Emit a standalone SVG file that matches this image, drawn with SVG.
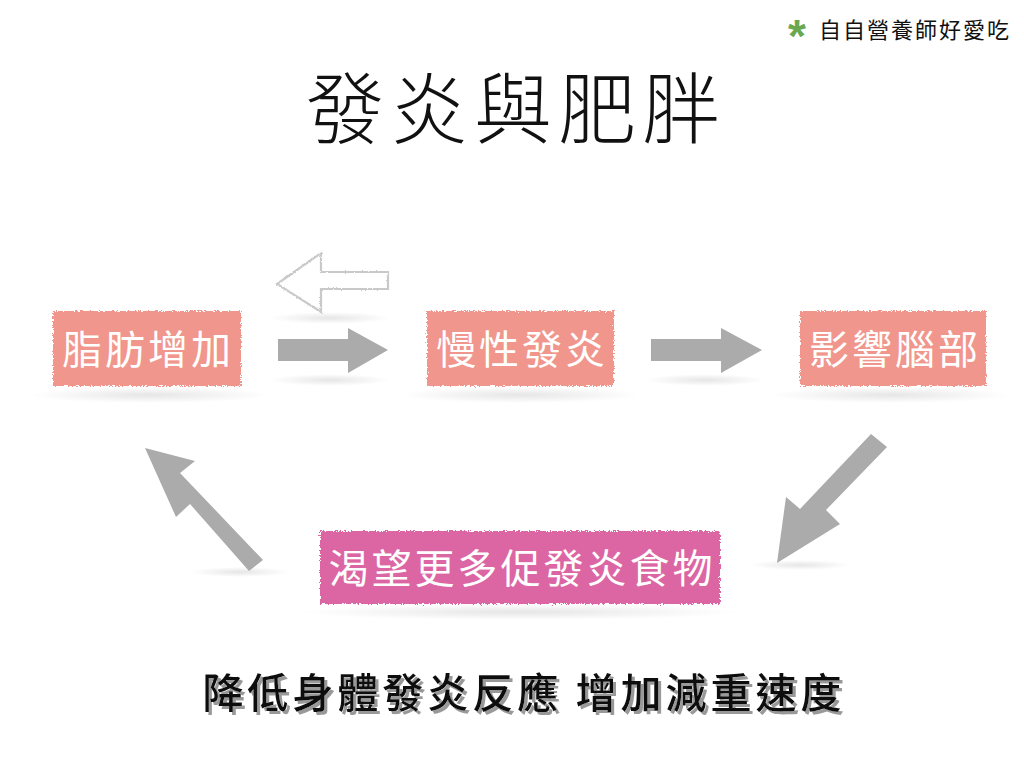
<svg xmlns="http://www.w3.org/2000/svg" width="1024" height="768" viewBox="0 0 1024 768">
<defs>
<style>
.box{filter:url(#rough)}
.bt{font-family:"Noto Sans CJK TC","Noto Sans CJK SC",sans-serif;font-size:40px;fill:#fff;text-anchor:middle;font-weight:400;letter-spacing:3px}
.arr{fill:#ababab}
.sh{fill:url(#shg)}
</style>
<filter id="rough" x="-5%" y="-10%" width="110%" height="120%">
<feTurbulence type="fractalNoise" baseFrequency="0.6" numOctaves="2" seed="3" result="n"/>
<feDisplacementMap in="SourceGraphic" in2="n" scale="5" xChannelSelector="R" yChannelSelector="G"/>
</filter>
<filter id="sketch" x="-10%" y="-10%" width="120%" height="120%">
<feTurbulence type="fractalNoise" baseFrequency="0.8" numOctaves="2" seed="5" result="n"/>
<feDisplacementMap in="SourceGraphic" in2="n" scale="2.5" xChannelSelector="R" yChannelSelector="G"/>
</filter>
<filter id="tshadow" x="-5%" y="-20%" width="110%" height="150%">
<feOffset in="SourceAlpha" dx="3" dy="3" result="o"/>
<feFlood flood-color="#999"/>
<feComposite in2="o" operator="in" result="s"/>
<feMerge><feMergeNode in="s"/><feMergeNode in="SourceGraphic"/></feMerge>
</filter>
<radialGradient id="shg">
<stop offset="0" stop-color="#000" stop-opacity="0.1"/>
<stop offset="1" stop-color="#000" stop-opacity="0"/>
</radialGradient>
</defs>
<rect width="1024" height="768" fill="#fff"/>

<g id="brand">
<text x="797" y="52" font-family="Liberation Sans,sans-serif" font-size="46" font-weight="bold" fill="#6aa84f" text-anchor="middle">*</text>
<text x="819" y="38" font-family="'Noto Sans CJK TC',sans-serif" font-size="22" fill="#111" letter-spacing="2">自自營養師好愛吃</text>
</g>

<g id="title">
<text x="516" y="138" font-family="'Noto Sans CJK TC',sans-serif" font-size="78" font-weight="300" fill="#111" text-anchor="middle" letter-spacing="6">發炎與肥胖</text>
</g>

<g id="shadows">
<ellipse class="sh" cx="330" cy="318" rx="60" ry="6"/>
<ellipse class="sh" cx="330" cy="380" rx="60" ry="6"/>
<ellipse class="sh" cx="705" cy="380" rx="60" ry="6"/>
<ellipse class="sh" cx="150" cy="395" rx="120" ry="8"/>
<ellipse class="sh" cx="520" cy="395" rx="120" ry="8"/>
<ellipse class="sh" cx="890" cy="395" rx="120" ry="8"/>
<ellipse class="sh" cx="800" cy="565" rx="50" ry="5"/>
<ellipse class="sh" cx="240" cy="572" rx="50" ry="5"/>
<ellipse class="sh" cx="520" cy="612" rx="220" ry="8"/>
</g>

<g id="connectors">
<path class="arr" d="M278,339 H348 V328 L388,350 L348,373 V361 H278 Z"/>
<path class="arr" d="M651,339 H721 V328 L762,350 L721,373 V361 H651 Z"/>
<path class="arr" d="M871,434 L887,447 L826,510 L840,524 L777,563 L786,497 L800,509 Z"/>
<path class="arr" d="M263,560 L249,571 L190,504 L176,517 L145,448 L195,461 L180,473 Z"/>
<path d="M388,272 H321 V253 L277,284 L321,312 V289 H388 Z" fill="#fff" stroke="#c9c9c9" stroke-width="2.2" filter="url(#sketch)"/>
</g>

<g id="node-fat">
<rect class="box" x="53" y="311" width="188" height="75" fill="#f0968c"/>
<text class="bt" x="148" y="364">脂肪增加</text>
</g>
<g id="node-inflam">
<rect class="box" x="427" y="311" width="187" height="75" fill="#f0968c"/>
<text class="bt" x="522" y="364">慢性發炎</text>
</g>
<g id="node-brain">
<rect class="box" x="800" y="311" width="186" height="75" fill="#f0968c"/>
<text class="bt" x="895" y="364">影響腦部</text>
</g>
<g id="node-crave">
<rect class="box" x="320" y="531" width="400" height="73" fill="#dc66a3"/>
<text class="bt" x="522" y="583">渴望更多促發炎食物</text>
</g>

<g id="footer">
<text x="524" y="708" font-family="'Noto Sans CJK TC',sans-serif" font-size="41" font-weight="500" fill="#111" text-anchor="middle" letter-spacing="4" filter="url(#tshadow)">降低身體發炎反應 增加減重速度</text>
</g>
</svg>
